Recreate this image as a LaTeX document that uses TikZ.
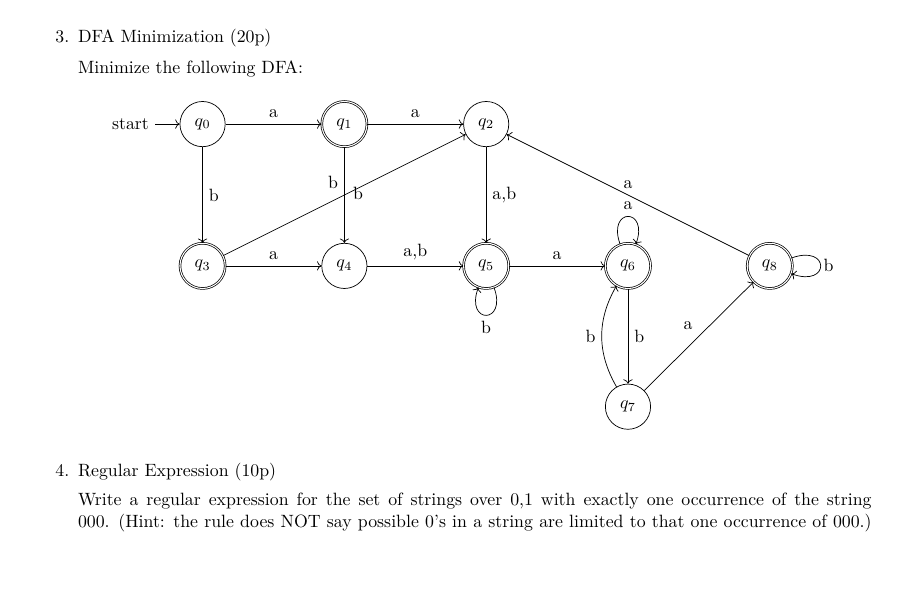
\documentclass[tikz,border=0pt]{standalone}
\usepackage{amsmath}
\usepackage{tikz}
\usetikzlibrary{arrows.meta}

\newlength{\rxwidth}
\setlength{\rxwidth}{15.67cm}

\begin{document}
\begin{tikzpicture}[
  txt/.style={anchor=base west, inner sep=0pt},
  st/.style={circle, draw, line width=0.4pt, minimum size=25.4pt, inner sep=0pt},
  acc/.style={st, double},
  trans/.style={-{To}, line width=0.4pt}
]
\useasboundingbox (0,0) rectangle (17.87,-11.65);

% question 3
\node[txt] (n3) at (1.086,-0.843) {3.};
\node[txt] (h3) at (1.534,-0.843) {DFA Minimization (20p)};
\node[txt] (t3) at (1.534,-1.461) {Minimize the following DFA:};

% states
\node (start) at (2.577,-2.45) {start};
\node[st] (q0) at (4.0,-2.45) {$q_0$};
\node[acc] (q1) at (6.8,-2.45) {$q_1$};
\node[st] (q2) at (9.6,-2.45) {$q_2$};
\node[acc] (q3) at (4.0,-5.25) {$q_3$};
\node[st] (q4) at (6.8,-5.25) {$q_4$};
\node[acc] (q5) at (9.6,-5.25) {$q_5$};
\node[acc] (q6) at (12.4,-5.25) {$q_6$};
\node[st] (q7) at (12.4,-8.03) {$q_7$};
\node[acc] (q8) at (15.2,-5.25) {$q_8$};

% transitions
\draw[trans] (start) -- (q0);
\draw[trans] (q0) -- node[above] {a} (q1);
\draw[trans] (q1) -- node[above] {a} (q2);
\draw[trans] (q0) -- node[right] {b} (q3);
\draw[trans] (q1) -- node[above left] {b} (q4);
\draw[trans] (q3) -- node[pos=0.51, right] {b} (q2);
\draw[trans] (q3) -- node[above] {a} (q4);
\draw[trans] (q4) -- node[above] {a,b} (q5);
\draw[trans] (q2) -- node[right] {a,b} (q5);
\draw[trans] (q5.-70) .. controls +(-70:7.8mm) and +(-110:7.8mm) .. node[below] {b} (q5.-110);
\draw[trans] (q5) -- node[above] {a} (q6);
\draw[trans] (q6.110) .. controls +(110:7.8mm) and +(70:7.8mm) .. node[above] {a} (q6.70);
\draw[trans] (q6) -- node[right] {b} (q7);
\draw[trans] (q7) to[bend left] node[left] {b} (q6);
\draw[trans] (q7) -- node[above left] {a} (q8);
\draw[trans] (q8) -- node[above] {a} (q2);
\draw[trans] (q8.20) .. controls +(20:8.2mm) and +(-20:8.2mm) .. node[right, inner sep=1.5pt] {b} (q8.-20);

% question 4
\node[txt] (n4) at (1.086,-9.399) {4.};
\node[txt] (h4) at (1.534,-9.399) {Regular Expression (10p)};
\node[txt] (rx1) at (1.534,-9.972) {\makebox[\rxwidth][s]{Write a regular expression for the set of strings over 0,1 with exactly one occurrence of the string}};
\node[txt] (rx2) at (1.534,-10.42) {\makebox[\rxwidth][s]{000. (Hint: the rule does NOT say possible 0's in a string are limited to that one occurrence of 000.)}};

\end{tikzpicture}
\end{document}
